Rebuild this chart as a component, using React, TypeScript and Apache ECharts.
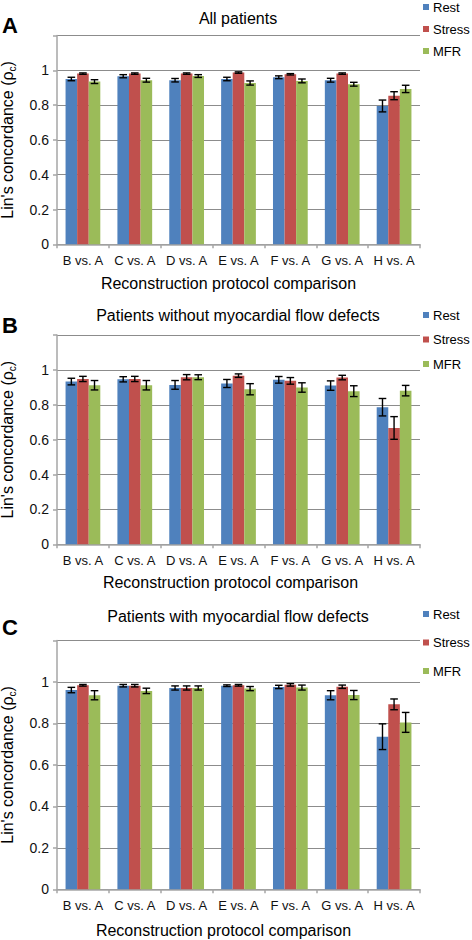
import React, { useEffect, useRef } from "react";
import * as echarts from "echarts";

const categories = ["B vs. A", "C vs. A", "D vs. A", "E vs. A", "F vs. A", "G vs. A", "H vs. A"];
const seriesNames = ["Rest", "Stress", "MFR"];
const colors = ["#4F81BD", "#C0504D", "#9BBB59"];
const yTicks = [0, 0.2, 0.4, 0.6, 0.8, 1];

// Panel A: all patients
const restA = [0.950, 0.966, 0.943, 0.950, 0.960, 0.943, 0.795];
const stressA = [0.981, 0.981, 0.981, 0.987, 0.977, 0.981, 0.854];
const mfrA = [0.935, 0.943, 0.967, 0.927, 0.939, 0.920, 0.893];
const restErrA = [0.010, 0.009, 0.010, 0.010, 0.008, 0.011, 0.034];
const stressErrA = [0.004, 0.004, 0.004, 0.004, 0.004, 0.004, 0.023];
const mfrErrA = [0.011, 0.011, 0.008, 0.012, 0.011, 0.011, 0.021];

// Panel B: without defects
const restB = [0.933, 0.946, 0.914, 0.922, 0.943, 0.910, 0.786];
const stressB = [0.948, 0.948, 0.958, 0.967, 0.937, 0.956, 0.667];
const mfrB = [0.912, 0.912, 0.958, 0.889, 0.899, 0.878, 0.881];
const restErrB = [0.019, 0.015, 0.025, 0.023, 0.019, 0.027, 0.050];
const stressErrB = [0.015, 0.015, 0.015, 0.010, 0.019, 0.013, 0.065];
const mfrErrB = [0.027, 0.027, 0.014, 0.032, 0.027, 0.031, 0.030];

// Panel C: with defects
const restC = [0.961, 0.982, 0.971, 0.982, 0.976, 0.936, 0.736];
const stressC = [0.984, 0.982, 0.971, 0.984, 0.986, 0.977, 0.892];
const mfrC = [0.936, 0.957, 0.971, 0.968, 0.973, 0.937, 0.805];
const restErrC = [0.013, 0.006, 0.010, 0.004, 0.008, 0.022, 0.062];
const stressErrC = [0.004, 0.006, 0.010, 0.004, 0.006, 0.008, 0.026];
const mfrErrC = [0.022, 0.013, 0.010, 0.010, 0.012, 0.022, 0.048];

const panelTitles = ["All patients", "Patients without myocardial flow defects", "Patients with myocardial flow defects"];
const panelLetters = ["A", "B", "C"];
const xAxisName = "Reconstruction protocol comparison";

const FONT = "'Liberation Sans', Arial, sans-serif";

const panels = [
  { vals: [restA, stressA, mfrA], errs: [restErrA, stressErrA, mfrErrA] },
  { vals: [restB, stressB, mfrB], errs: [restErrB, stressErrB, mfrErrB] },
  { vals: [restC, stressC, mfrC], errs: [restErrC, stressErrC, mfrErrC] },
];

const layout = [
  { top: 35.5, height: 208.8, titleTop: 10, letterTop: 14, legendTop: 0.5, legendGap: 9, nameGap: 31, namePad: 20 },
  { top: 335, height: 209.3, titleTop: 307.5, letterTop: 314, legendTop: 308.5, legendGap: 11.5, nameGap: 30, namePad: 16 },
  { top: 640.5, height: 248.8, titleTop: 608, letterTop: 616, legendTop: 607.5, legendGap: 15.5, nameGap: 33, namePad: 30 },
];

const GAP = 0.33;

export default function App() {
  const ref = useRef<HTMLDivElement>(null);
  useEffect(() => {
    if (!ref.current) return;
    const chart = echarts.init(ref.current, null, { renderer: "svg" });
    const grid: any[] = [];
    const xAxis: any[] = [];
    const yAxis: any[] = [];
    const series: any[] = [];
    const title: any[] = [];
    const legend: any[] = [];
    layout.forEach((L, p) => {
      grid.push({ left: 57, top: L.top, width: 363, height: L.height, containLabel: false, outerBoundsMode: "none" });
      xAxis.push({
        type: "category",
        gridIndex: p,
        data: categories,
        name: xAxisName,
        nameLocation: "middle",
        nameGap: L.nameGap,
        nameTextStyle: { fontSize: 16, color: "#000", fontFamily: FONT, padding: [0, L.namePad, 0, 0] },
        axisLine: { lineStyle: { color: "#A6A6A6", width: 1.5 } },
        axisTick: { show: true, length: 4, lineStyle: { color: "#A6A6A6", width: 1.5 } },
        axisLabel: { fontSize: 13, color: "#111", fontFamily: FONT, margin: 10, interval: 0, hideOverlap: false },
      });
      yAxis.push({
        type: "value",
        gridIndex: p,
        min: 0,
        max: 1.2,
        interval: 0.2,
        name: "Lin's concordance (ρ{s|c})",
        nameLocation: "middle",
        nameGap: 40,
        nameTextStyle: {
          fontSize: 16,
          color: "#000",
          fontFamily: FONT,
          lineHeight: 20,
          rich: { s: { fontSize: 10, fontFamily: FONT, color: "#000", verticalAlign: "bottom", lineHeight: 10 } },
        },
        axisLine: { show: true, lineStyle: { color: "#A6A6A6", width: 1.5 } },
        axisTick: { show: true, length: 4, lineStyle: { color: "#A6A6A6", width: 1.5 } },
        splitLine: { show: true, lineStyle: { color: "#8C8C8C", width: 1 } },
        axisLabel: {
          fontSize: 14,
          color: "#111",
          fontFamily: FONT,
          margin: 8,
          formatter: (v: number) => {
            const t = yTicks.find((k) => Math.abs(k - v) < 1e-6);
            return t === undefined ? "" : String(t);
          },
        },
      });
      title.push({
        text: panelTitles[p],
        left: 238,
        top: L.titleTop,
        textAlign: "center",
        padding: 0,
        textStyle: { fontSize: 16, fontWeight: "normal", color: "#000", fontFamily: FONT },
      });
      title.push({
        text: panelLetters[p],
        left: 2,
        top: L.letterTop,
        padding: 0,
        textStyle: { fontSize: 22, fontWeight: "bold", color: "#000", fontFamily: FONT },
      });
      legend.push({
        orient: "vertical",
        left: 423,
        top: L.legendTop,
        padding: 0,
        itemGap: L.legendGap,
        itemWidth: 6,
        itemHeight: 6,
        icon: "rect",
        data: seriesNames,
        textStyle: { fontSize: 13, color: "#000", fontFamily: FONT, padding: [0, 0, 0, -1] },
      });
      const P = panels[p];
      seriesNames.forEach((nm, k) => {
        series.push({
          type: "bar",
          name: nm,
          xAxisIndex: p,
          yAxisIndex: p,
          data: P.vals[k],
          barGap: "0%",
          barCategoryGap: GAP * 100 + "%",
          itemStyle: { color: colors[k] },
          silent: true,
        });
      });
      seriesNames.forEach((nm, k) => {
        series.push({
          type: "custom",
          name: "err" + p + k,
          xAxisIndex: p,
          yAxisIndex: p,
          z: 5,
          silent: true,
          encode: { x: 0, y: 1 },
          data: P.vals[k].map((v, i) => [i, v, P.errs[k][i]]),
          renderItem: (params: any, api: any) => {
            const xi = api.value(0);
            const v = api.value(1);
            const e = api.value(2);
            const band = api.size([1, 0])[0];
            const bw = (band * (1 - GAP)) / 3;
            const off = (k - 1) * bw;
            const top = api.coord([xi, v + e]);
            const bot = api.coord([xi, v - e]);
            const cx = top[0] + off;
            const cap = 3.8;
            const st = { stroke: "#000", lineWidth: 1.4 };
            return {
              type: "group",
              children: [
                { type: "line", shape: { x1: cx, y1: top[1], x2: cx, y2: bot[1] }, style: st },
                { type: "line", shape: { x1: cx - cap, y1: top[1], x2: cx + cap, y2: top[1] }, style: st },
                { type: "line", shape: { x1: cx - cap, y1: bot[1], x2: cx + cap, y2: bot[1] }, style: st },
              ],
            };
          },
        });
      });
    });
    chart.setOption({
      animation: false,
      backgroundColor: "#fff",
      textStyle: { fontFamily: FONT },
      title,
      legend,
      grid,
      xAxis,
      yAxis,
      series,
    });
    return () => chart.dispose();
  }, []);
  return <div ref={ref} style={{ position: "fixed", left: 0, top: 0, width: 472, height: 940 }} />;
}
